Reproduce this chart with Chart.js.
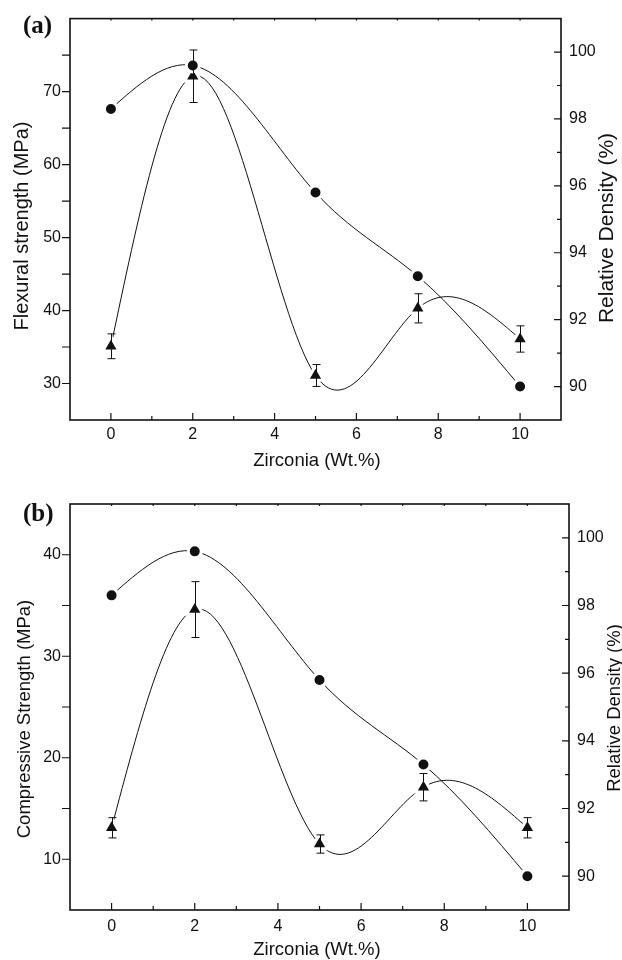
<!DOCTYPE html>
<html>
<head>
<meta charset="utf-8">
<script src="https://cdn.jsdelivr.net/npm/chart.js@4/dist/chart.umd.min.js"></script>
<style>
  html, body { margin: 0; padding: 0; background: #fff; }
  body { width: 622px; height: 960px; position: relative; overflow: hidden; }
  .panel { position: absolute; left: 0; }
</style>
</head>
<body>
<div class="panel" style="top:0px"><canvas id="ca" width="622" height="470"></canvas></div>
<div class="panel" style="top:470px"><canvas id="cb" width="622" height="490"></canvas></div>
<script>
// ---- data ----
const zirconia = [0, 2, 5, 7.5, 10];

const densityA = [98.3, 99.6, 95.8, 93.3, 90.0];
const flexural = [35.1, 72.1, 31.1, 40.3, 36.1];
const flexuralErr = [1.7, 3.6, 1.5, 2.0, 1.8];

const densityB = [98.3, 99.6, 95.8, 93.3, 90.0];
const compressive = [13.1, 34.6, 11.5, 17.1, 13.1];
const compressiveErr = [1.0, 2.75, 0.9, 1.35, 1.0];

// ---- tick values ----
const xMajorTicks = [0, 2, 4, 6, 8, 10];
const xMinorTicks = [1, 3, 5, 7, 9];
const flexMajorTicks = [30, 40, 50, 60, 70];
const flexMinorTicks = [35, 45, 55, 65, 75];
const compMajorTicks = [10, 20, 30, 40];
const compMinorTicks = [15, 25, 35];
const densMajorTicks = [90, 92, 94, 96, 98, 100];
const densMinorTicks = [91, 93, 95, 97, 99];

const INK = '#111';
const SANS = '"Liberation Sans", Arial, Helvetica, sans-serif';

function pts(xs, ys) { return xs.map((x, i) => ({ x: x, y: ys[i] })); }

// slopes of the natural cubic spline through the data points
function naturalSlopes(xs, ys) {
  const n = xs.length, h = [], M = new Array(n).fill(0);
  for (let i = 0; i < n - 1; i++) h.push(xs[i + 1] - xs[i]);
  const cp = [], rp = [];
  for (let i = 1; i < n - 1; i++) {
    const a = h[i - 1], b = 2 * (h[i - 1] + h[i]), c = h[i];
    const r = 6 * ((ys[i + 1] - ys[i]) / h[i] - (ys[i] - ys[i - 1]) / h[i - 1]);
    if (i === 1) { cp[i] = c / b; rp[i] = r / b; }
    else { const d = b - a * cp[i - 1]; cp[i] = c / d; rp[i] = (r - a * rp[i - 1]) / d; }
  }
  for (let i = n - 2; i >= 1; i--) M[i] = rp[i] - cp[i] * M[i + 1];
  const m = [];
  for (let i = 0; i < n - 1; i++) m.push((ys[i + 1] - ys[i]) / h[i] - h[i] * (2 * M[i] + M[i + 1]) / 6);
  m.push((ys[n - 1] - ys[n - 2]) / h[n - 2] + h[n - 2] * (M[n - 2] + 2 * M[n - 1]) / 6);
  return m;
}

// make Chart.js draw its line as a natural cubic spline (Bezier control points)
const splinePlugin = {
  id: 'naturalSpline',
  beforeDatasetDraw(chart, args) {
    const meta = args.meta, line = meta.dataset, els = meta.data;
    if (!line || els.length < 3) return;
    if (line.updateControlPoints) line.updateControlPoints(chart.chartArea, 'x');
    const ds = chart.data.datasets[args.index];
    const xs = ds.data.map(p => p.x), ys = ds.data.map(p => p.y);
    const m = naturalSlopes(xs, ys), n = xs.length;
    const sx = meta.xScale, sy = meta.yScale;
    for (let i = 0; i < n; i++) {
      const hp = i > 0 ? xs[i] - xs[i - 1] : 0;
      const hn = i < n - 1 ? xs[i + 1] - xs[i] : 0;
      els[i].cp1x = sx.getPixelForValue(xs[i] - hp / 3);
      els[i].cp1y = sy.getPixelForValue(ys[i] - m[i] * hp / 3);
      els[i].cp2x = sx.getPixelForValue(xs[i] + hn / 3);
      els[i].cp2y = sy.getPixelForValue(ys[i] + m[i] * hn / 3);
    }
  }
};

const decor = {
  id: 'decor',
  afterDatasetsDraw(chart, args, o) {
    const ctx = chart.ctx, a = chart.chartArea;
    const sx = chart.scales.x, sl = chart.scales.y, sr = chart.scales.y1;
    ctx.save();
    ctx.strokeStyle = INK;
    ctx.fillStyle = INK;
    // error bars
    chart.data.datasets.forEach(ds => {
      if (!ds.errors) return;
      ctx.lineWidth = 1;
      ds.data.forEach((p, j) => {
        const px = Math.round(sx.getPixelForValue(p.x)) + 0.5;
        const t = sl.getPixelForValue(p.y + ds.errors[j]);
        const b = sl.getPixelForValue(p.y - ds.errors[j]);
        ctx.beginPath();
        ctx.moveTo(px, t); ctx.lineTo(px, b);
        ctx.moveTo(px - 4, t); ctx.lineTo(px + 4, t);
        ctx.moveTo(px - 4, b); ctx.lineTo(px + 4, b);
        ctx.stroke();
      });
    });
    // frame
    ctx.lineWidth = 1.6;
    ctx.strokeRect(a.left, a.top, a.right - a.left, a.bottom - a.top);
    ctx.lineWidth = 1.2;
    ctx.beginPath();
    o.xMajor.forEach(v => {
      const px = sx.getPixelForValue(v);
      ctx.moveTo(px, a.bottom); ctx.lineTo(px, a.bottom - 7);
      ctx.moveTo(px, a.top); ctx.lineTo(px, a.top + 2);
    });
    o.xMinor.forEach(v => {
      const px = sx.getPixelForValue(v);
      ctx.moveTo(px, a.bottom); ctx.lineTo(px, a.bottom - 4);
      ctx.moveTo(px, a.top); ctx.lineTo(px, a.top + 2);
    });
    o.lMajor.concat(o.lMinor).forEach(v => {
      const py = sl.getPixelForValue(v);
      ctx.moveTo(a.left, py); ctx.lineTo(a.left - 8, py);
    });
    o.rMajor.forEach(v => {
      const py = sr.getPixelForValue(v);
      ctx.moveTo(a.right, py); ctx.lineTo(a.right - 7, py);
    });
    o.rMinor.forEach(v => {
      const py = sr.getPixelForValue(v);
      ctx.moveTo(a.right, py); ctx.lineTo(a.right - 4, py);
    });
    ctx.stroke();

    // titles
    ctx.textAlign = 'center';
    ctx.textBaseline = 'middle';
    ctx.font = o.xFont + 'px ' + SANS;
    ctx.fillText(o.xTitle, o.xTitlePos[0], o.xTitlePos[1]);
    ctx.save();
    ctx.translate(o.lTitlePos[0], o.lTitlePos[1]);
    ctx.rotate(-Math.PI / 2);
    ctx.font = o.lFont + 'px ' + SANS;
    ctx.fillText(o.lTitle, 0, 0);
    ctx.restore();
    ctx.save();
    ctx.translate(o.rTitlePos[0], o.rTitlePos[1]);
    ctx.rotate(-Math.PI / 2);
    ctx.font = o.rFont + 'px ' + SANS;
    ctx.fillText(o.rTitle, 0, 0);
    ctx.restore();
    ctx.textAlign = 'left';
    ctx.font = 'bold 25px "Liberation Serif", "Times New Roman", serif';
    ctx.fillText(o.tag, o.tagPos[0], o.tagPos[1]);
    ctx.restore();
  }
};

function makeChart(id, cfg) {
  const tickFont = { family: SANS, size: 16 };
  return new Chart(document.getElementById(id), {
    type: 'line',
    data: {
      datasets: [
        {
          data: pts(zirconia, cfg.density),
          yAxisID: 'y1',
          borderColor: INK, borderWidth: 1,
          tension: 0.4,
          pointStyle: 'circle', pointRadius: 6.5,
          pointBackgroundColor: INK, pointBorderColor: '#fff', pointBorderWidth: 3,
          fill: false, clip: false
        },
        {
          data: pts(zirconia, cfg.strength),
          errors: cfg.err,
          yAxisID: 'y',
          borderColor: INK, borderWidth: 1,
          tension: 0.4,
          pointStyle: 'triangle', pointRadius: 9.5,
          pointBackgroundColor: INK, pointBorderColor: '#fff', pointBorderWidth: 3,
          fill: false, clip: false
        }
      ]
    },
    options: {
      responsive: false,
      animation: false,
      events: [],
      devicePixelRatio: 1,
      layout: { padding: { top: cfg.padTop, left: 0, right: 0, bottom: 0 } },
      plugins: {
        legend: { display: false },
        tooltip: { enabled: false },
        decor: cfg.decor
      },
      scales: {
        x: {
          type: 'linear', position: 'bottom', min: -1, max: 11,
          grid: { display: false, drawTicks: false, tickLength: 0 },
          border: { display: false },
          afterBuildTicks: s => { s.ticks = xMajorTicks.map(v => ({ value: v })); },
          afterFit: s => { s.height = cfg.xHeight; },
          ticks: { font: tickFont, color: INK, padding: cfg.xPad, maxRotation: 0, autoSkip: false }
        },
        y: {
          type: 'linear', position: 'left', min: cfg.lMin, max: cfg.lMax,
          grid: { display: false, drawTicks: false, tickLength: 0 },
          border: { display: false },
          afterBuildTicks: s => { s.ticks = cfg.lMajor.map(v => ({ value: v })); },
          afterFit: s => { s.width = 70; },
          ticks: { font: tickFont, color: INK, padding: 9, autoSkip: false }
        },
        y1: {
          type: 'linear', position: 'right', min: 89, max: 101,
          grid: { display: false, drawTicks: false, tickLength: 0 },
          border: { display: false },
          afterBuildTicks: s => { s.ticks = densMajorTicks.map(v => ({ value: v })); },
          afterFit: s => { s.width = cfg.rWidth; },
          ticks: { font: tickFont, color: INK, padding: 8, autoSkip: false }
        }
      }
    },
    plugins: [splinePlugin, decor]
  });
}

makeChart('ca', {
  density: densityA, strength: flexural, err: flexuralErr,
  padTop: 14, xHeight: 50, rWidth: 61, xPad: 5,
  lMin: 25, lMax: 80, lMajor: flexMajorTicks,
  decor: {
    xMajor: xMajorTicks, xMinor: xMinorTicks,
    lMajor: flexMajorTicks, lMinor: flexMinorTicks,
    rMajor: densMajorTicks, rMinor: densMinorTicks,
    xTitle: 'Zirconia (Wt.%)', xFont: 18.5, xTitlePos: [317, 461],
    lTitle: 'Flexural strength (MPa)', lFont: 20, lTitlePos: [22, 226],
    rTitle: 'Relative Density (%)', rFont: 21, rTitlePos: [607, 228],
    tag: '(a)', tagPos: [23, 27]
  }
});

makeChart('cb', {
  density: densityB, strength: compressive, err: compressiveErr,
  padTop: 34, xHeight: 50, rWidth: 53, xPad: 7,
  lMin: 5, lMax: 45, lMajor: compMajorTicks,
  decor: {
    xMajor: xMajorTicks, xMinor: xMinorTicks,
    lMajor: compMajorTicks, lMinor: compMinorTicks,
    rMajor: densMajorTicks, rMinor: densMinorTicks,
    xTitle: 'Zirconia (Wt.%)', xFont: 18.5, xTitlePos: [317, 480],
    lTitle: 'Compressive Strength (MPa)', lFont: 18.5, lTitlePos: [25, 249],
    rTitle: 'Relative Density (%)', rFont: 18.5, rTitlePos: [615, 238],
    tag: '(b)', tagPos: [23, 45]
  }
});
</script>
</body>
</html>
